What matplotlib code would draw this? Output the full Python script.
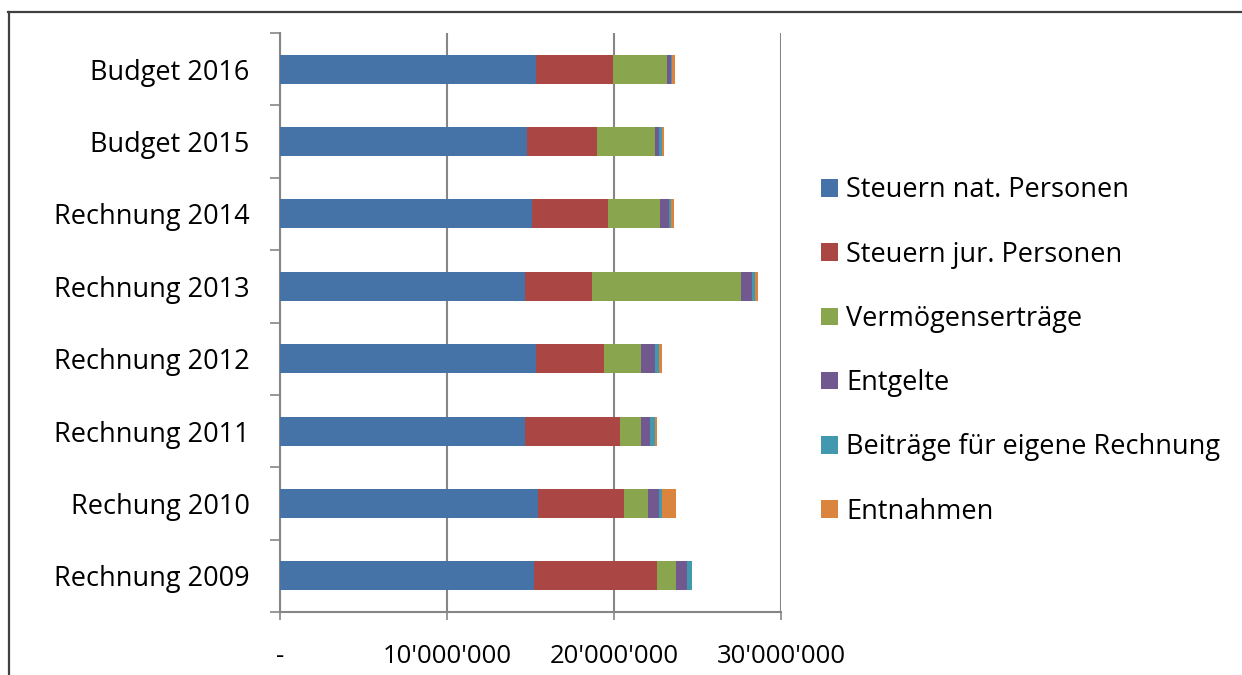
import numpy as np
import matplotlib
matplotlib.use("Agg")
import matplotlib.pyplot as plt
from matplotlib.lines import Line2D
from matplotlib.patches import Patch
from matplotlib.ticker import FixedLocator, NullFormatter

# Ertraege je Rechnungsjahr (Mio. CHF), von unten nach oben
jahre = ["Rechnung 2009", "Rechung 2010", "Rechnung 2011", "Rechnung 2012",
         "Rechnung 2013", "Rechnung 2014", "Budget 2015", "Budget 2016"]
steuern_nat = [15.23, 15.47, 14.65, 15.35, 14.65, 15.07, 14.79, 15.33]
steuern_jur = [7.34, 5.15, 5.71, 4.05, 4.03, 4.59, 4.19, 4.61]
vermoegen = [1.14, 1.40, 1.28, 2.24, 8.94, 3.09, 3.48, 3.21]
entgelte = [0.68, 0.69, 0.54, 0.82, 0.66, 0.54, 0.23, 0.26]
beitraege = [0.30, 0.16, 0.28, 0.25, 0.16, 0.12, 0.18, 0.09]
entnahmen = [0.00, 0.84, 0.13, 0.16, 0.16, 0.16, 0.14, 0.18]

serien = [
    ("Steuern nat. Personen", steuern_nat, "#4572A7"),
    ("Steuern jur. Personen", steuern_jur, "#AA4643"),
    ("Vermögenserträge", vermoegen, "#89A54E"),
    ("Entgelte", entgelte, "#71588F"),
    ("Beiträge für eigene Rechnung", beitraege, "#4198AF"),
    ("Entnahmen", entnahmen, "#DB843D"),
]

x_ticks = [0, 10_000_000, 20_000_000, 30_000_000]
x_labels = ["-", "10'000'000", "20'000'000", "30'000'000"]

plt.rcParams["font.family"] = ["Open Sans", "DejaVu Sans"]
GRAU = "#868686"
SCHRIFT = 19.5

fig = plt.figure(figsize=(12.42, 6.75), dpi=100, facecolor="white")
ax = fig.add_axes([280 / 1242, 63 / 675, 501 / 1242, 579 / 675])

y = np.arange(len(jahre))
links = np.zeros(len(jahre))
for name, werte, farbe in serien:
    breite = np.array(werte) * 1e6
    ax.barh(y, breite, left=links, height=0.4, color=farbe, linewidth=0, zorder=3)
    links += breite

ax.set_xlim(0, 30_000_000)
ax.set_ylim(-0.5, len(jahre) - 0.5)

ax.set_xticks(x_ticks)
ax.set_xticklabels(x_labels)
ax.xaxis.grid(True, color=GRAU, linewidth=1.5, zorder=0)
ax.tick_params(axis="x", direction="out", length=6, width=1.2, color=GRAU,
               pad=17, labelsize=18.5)

# Kategoriegrenzen als Striche, Beschriftung in der Mitte
ax.yaxis.set_major_locator(FixedLocator(np.arange(-0.5, len(jahre), 1.0)))
ax.yaxis.set_major_formatter(NullFormatter())
ax.yaxis.set_minor_locator(FixedLocator(y))
ax.set_yticklabels(jahre, minor=True)
ax.tick_params(axis="y", which="major", direction="out", length=7, width=1.2, color=GRAU)
ax.tick_params(axis="y", which="minor", length=0, pad=22, labelsize=SCHRIFT)

for s in ("top", "right"):
    ax.spines[s].set_visible(False)
for s in ("left", "bottom"):
    ax.spines[s].set_color(GRAU)
    ax.spines[s].set_linewidth(1.5)

handles = [Patch(facecolor=f, edgecolor="none") for _, _, f in serien]
fig.legend(handles, [n for n, _, _ in serien], loc="center left",
           bbox_to_anchor=(821 / 1242, 1 - 351 / 675), frameon=False,
           fontsize=SCHRIFT, handlelength=0.62, handleheight=0.62, handletextpad=0.3,
           labelspacing=1.34, borderpad=0, borderaxespad=0)

# Rahmen oben und links
fig.add_artist(Line2D([8 / 1242, 1], [1 - 12 / 675, 1 - 12 / 675],
                      transform=fig.transFigure, color="#404040", linewidth=1.6))
fig.add_artist(Line2D([8.5 / 1242, 8.5 / 1242], [0, 1 - 12 / 675],
                      transform=fig.transFigure, color="#404040", linewidth=1.6))

fig.savefig("out.png", dpi=100, facecolor="white")
